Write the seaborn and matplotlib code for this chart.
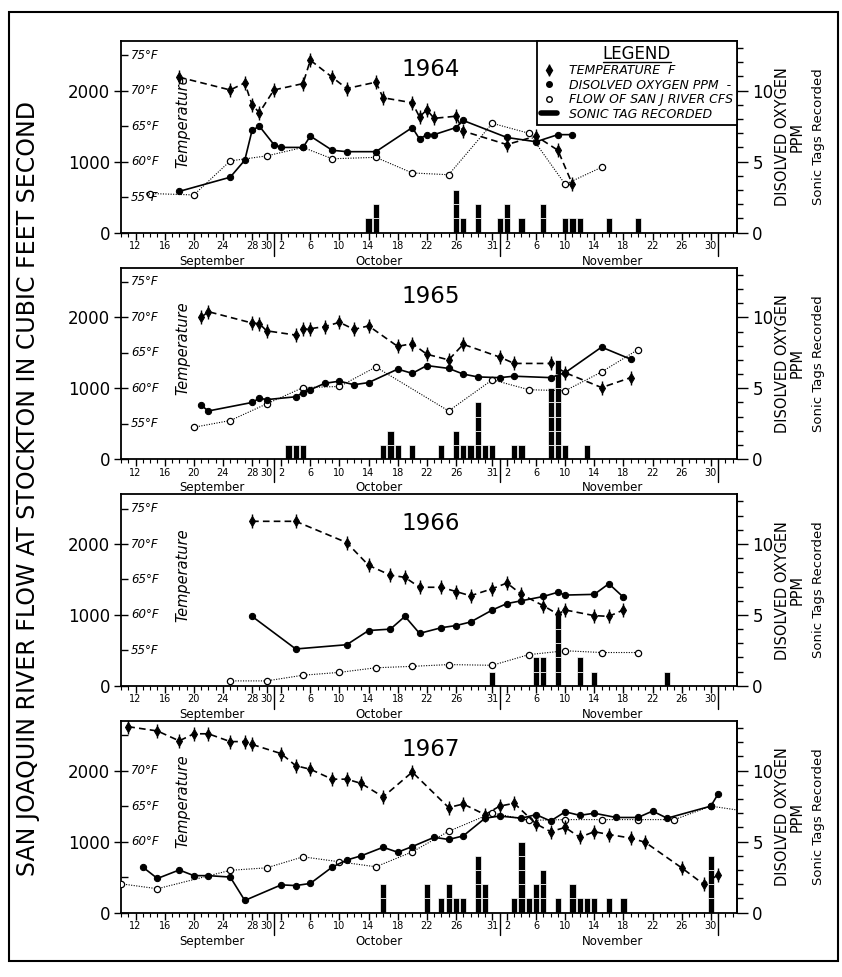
import numpy as np
import pandas as pd
import matplotlib
matplotlib.use("Agg")
import matplotlib.pyplot as plt
import seaborn as sns
from matplotlib.lines import Line2D
from matplotlib.patches import Rectangle
from matplotlib.legend_handler import HandlerTuple

# day numbers counted from 1 September (Sep 1 = 1, Oct 1 = 31, Nov 1 = 62, Dec 1 = 92)
years = [1964, 1965, 1966, 1967]

temp_days = {
    1964: [18, 25, 27, 28, 29, 31, 35, 36, 39, 41, 45, 46, 50, 51, 52, 53, 56, 57, 63, 67, 70, 72],
    1965: [21, 22, 28, 29, 30, 34, 35, 36, 38, 40, 42, 44, 48, 50, 52, 55, 57, 62, 64, 69, 71, 76, 80],
    1966: [28, 34, 41, 44, 47, 49, 51, 54, 56, 58, 61, 63, 65, 68, 70, 71, 75, 77, 79],
    1967: [11, 15, 18, 20, 22, 25, 27, 28, 32, 34, 36, 39, 41, 43, 46, 50, 55, 57, 60, 62, 64,
           67, 69, 71, 73, 75, 77, 80, 82, 87, 90, 92],
}
temp_f = {
    1964: [71.9, 70.1, 71.1, 68.0, 66.9, 70.1, 71.0, 74.3, 71.9, 70.3, 71.2, 69.0, 68.3, 66.3,
           67.3, 66.1, 66.4, 64.3, 62.4, 63.6, 61.6, 56.8],
    1965: [70.0, 70.8, 69.2, 69.1, 68.1, 67.5, 68.3, 68.4, 68.7, 69.3, 68.3, 68.8, 65.9, 66.3,
           64.8, 64.0, 66.2, 64.4, 63.5, 63.5, 62.2, 60.1, 61.5],
    1966: [73.2, 73.2, 70.2, 67.0, 65.6, 65.3, 63.9, 63.9, 63.3, 62.7, 63.7, 64.5, 62.9, 61.3,
           60.1, 60.7, 59.9, 59.8, 60.7],
    1967: [76.2, 75.6, 74.2, 75.2, 75.2, 74.1, 74.1, 73.7, 72.4, 70.7, 70.2, 68.8, 68.8, 68.2,
           66.3, 69.8, 64.8, 65.3, 63.8, 65.0, 65.4, 62.5, 61.4, 62.0, 60.6, 61.4, 61.0, 60.5,
           59.9, 56.3, 54.0, 55.3],
}

do_days = {
    1964: [18, 25, 27, 28, 29, 31, 32, 35, 36, 39, 41, 45, 50, 51, 52, 53, 56, 57, 63, 67, 70, 72],
    1965: [21, 22, 28, 29, 30, 34, 35, 36, 38, 40, 42, 44, 48, 50, 52, 55, 57, 59, 62, 64, 69, 71, 76, 80],
    1966: [28, 34, 41, 44, 47, 49, 51, 54, 56, 58, 61, 63, 65, 68, 70, 71, 75, 77, 79],
    1967: [13, 15, 18, 20, 22, 25, 27, 32, 34, 36, 39, 41, 43, 46, 48, 50, 53, 55, 57, 60, 62,
           65, 67, 69, 71, 73, 75, 78, 81, 83, 85, 91, 92],
}
do_ppm = {
    1964: [2.9, 3.9, 5.1, 7.2, 7.5, 6.2, 6.0, 6.0, 6.8, 5.8, 5.7, 5.7, 7.4, 6.6, 6.9, 6.9, 7.4,
           7.9, 6.7, 6.4, 6.9, 6.9],
    1965: [3.8, 3.4, 4.0, 4.3, 4.2, 4.4, 4.7, 4.9, 5.35, 5.5, 5.25, 5.4, 6.35, 6.05, 6.6, 6.4,
           6.0, 5.8, 5.75, 5.85, 5.75, 6.1, 7.9, 7.05],
    1966: [4.9, 2.6, 2.9, 3.9, 4.0, 4.9, 3.7, 4.1, 4.25, 4.5, 5.35, 5.8, 6.0, 6.3, 6.6, 6.4,
           6.45, 7.2, 6.25],
    1967: [3.2, 2.4, 3.0, 2.6, 2.6, 2.5, 0.85, 1.95, 1.9, 2.05, 3.2, 3.7, 4.0, 4.6, 4.25, 4.65,
           5.3, 5.15, 5.4, 6.65, 6.8, 6.65, 6.9, 6.45, 7.1, 6.85, 7.0, 6.7, 6.7, 7.15, 6.65, 7.5, 8.35],
}

flow_days = {
    1964: [14, 20, 25, 30, 35, 39, 45, 50, 55, 61, 66, 71, 76],
    1965: [20, 25, 30, 35, 40, 45, 55, 61, 66, 71, 76, 81],
    1966: [25, 30, 35, 40, 45, 50, 55, 61, 66, 71, 76, 81],
    1967: [10, 15, 25, 30, 35, 40, 45, 50, 55, 61, 66, 71, 76, 81, 86, 91, 95],
}
flow_cfs = {
    1964: [550, 530, 1010, 1080, 1200, 1040, 1060, 840, 815, 1540, 1400, 680, 920],
    1965: [450, 545, 780, 1010, 1025, 1300, 680, 1120, 980, 965, 1230, 1545],
    1966: [70, 70, 150, 190, 255, 275, 300, 290, 440, 495, 470, 470],
    1967: [405, 335, 595, 630, 785, 715, 645, 855, 1145, 1405, 1300, 1310, 1310, 1310, 1310,
           1500, 1440],
}

tag_days = {
    1964: [44, 45, 56, 57, 59, 62, 63, 65, 68, 71, 72, 73, 77, 81],
    1965: [33, 34, 35, 46, 47, 48, 50, 54, 56, 57, 58, 59, 60, 61, 64, 65, 69, 70, 71, 74],
    1966: [61, 67, 68, 70, 73, 75, 85],
    1967: [46, 52, 54, 55, 56, 57, 59, 60, 64, 65, 66, 67, 68, 70, 72, 73, 74, 75, 77, 79, 91],
}
tag_counts = {
    1964: [1, 2, 3, 1, 2, 1, 2, 1, 2, 1, 1, 1, 1, 1],
    1965: [1, 1, 1, 1, 2, 1, 1, 1, 2, 1, 1, 4, 1, 1, 1, 1, 5, 7, 1, 1],
    1966: [1, 2, 2, 5, 2, 1, 1],
    1967: [2, 2, 1, 2, 1, 1, 4, 2, 1, 5, 1, 2, 3, 1, 2, 1, 1, 1, 1, 1, 4],
}

# tick labels of the date axis
date_ticks = [12, 16, 20, 24, 28, 30, 32, 36, 40, 44, 48, 52, 56, 61, 63, 67, 71, 75, 79, 83, 87, 91]
date_labels = ["12", "16", "20", "24", "28", "30", "2", "6", "10", "14", "18", "22", "26", "31",
               "2", "6", "10", "14", "18", "22", "26", "30"]
month_names = ["September", "October", "November"]
month_centers = [22.5, 45.5, 77.5]
month_starts = [31, 62, 92]


# everything is drawn on the flow scale: 60F = 1000 cfs, 10 ppm = 2000 cfs
def temp_to_cfs(t):
    return (np.asarray(t) - 50) * 100


def ppm_to_cfs(p):
    return np.asarray(p) * 200


sns.set_theme(style="ticks")
plt.rcParams["font.family"] = ["DejaVu Sans"]
plt.rcParams["axes.edgecolor"] = "black"
plt.rcParams["xtick.color"] = "black"
plt.rcParams["ytick.color"] = "black"
plt.rcParams["text.color"] = "black"

fig = plt.figure(figsize=(8.42, 9.77), dpi=100)
bottoms = [0.762, 0.530, 0.298, 0.066]

for i, year in enumerate(years):
    ax = fig.add_axes([0.1437, bottoms[i], 0.7316, 0.196])

    # sonic tags as stacked unit blocks
    td = np.array(tag_days[year])
    tc = np.array(tag_counts[year])
    for k in range(tc.max()):
        sel = tc > k
        ax.bar(td[sel], ppm_to_cfs(1), bottom=ppm_to_cfs(k), width=0.85, color="black",
               edgecolor="white", linewidth=0.5, zorder=1)

    sns.lineplot(x=flow_days[year], y=flow_cfs[year], ax=ax, color="black", lw=0.8,
                 linestyle=(0, (1, 1.3)), marker="o", markersize=4.5, markerfacecolor="white",
                 markeredgecolor="black", markeredgewidth=0.9, zorder=3)
    sns.lineplot(x=do_days[year], y=ppm_to_cfs(do_ppm[year]), ax=ax, color="black", lw=1.2,
                 marker="o", markersize=4.5, markeredgecolor="black", zorder=4)
    sns.lineplot(x=temp_days[year], y=temp_to_cfs(temp_f[year]), ax=ax, color="black", lw=1.2,
                 linestyle=(0, (4, 2.5)), marker="d", markersize=5.5, markeredgecolor="black",
                 zorder=5)
    ax.plot(temp_days[year], temp_to_cfs(temp_f[year]), linestyle="none", marker="|",
            markersize=10, markeredgewidth=1, color="black", zorder=5)

    ax.set_xlim(10, 94.6)
    ax.set_ylim(0, 2700)
    for sp in ax.spines.values():
        sp.set_visible(True)
        sp.set_linewidth(1.3)

    ax.set_xticks(date_ticks)
    ax.set_xticklabels(date_labels)
    ax.set_xticks(range(10, 95), minor=True)
    ax.tick_params(axis="x", which="major", direction="out", length=5, width=1, labelsize=7, pad=1)
    ax.tick_params(axis="x", which="minor", direction="out", length=3, width=0.8)

    ax.set_yticks([0, 1000, 2000])
    ax.set_yticklabels(["0", "1000", "2000"])
    ax.set_yticks([500, 1500, 2500], minor=True)
    ax.tick_params(axis="y", which="major", direction="inout", length=10, width=1, labelsize=12, pad=3)
    ax.tick_params(axis="y", which="minor", direction="in", length=5, width=1)
    ax.set_xlabel("")
    ax.set_ylabel("")

    xtr = ax.get_xaxis_transform()
    for m in month_starts:
        ax.plot([m, m], [0, -0.12], transform=xtr, clip_on=False, color="black", lw=1)
    for name, c in zip(month_names, month_centers):
        ax.text(c, -0.115, name, transform=xtr, ha="center", va="top", fontsize=8.5)

    # temperature scale written inside the left spine
    ytr = ax.get_yaxis_transform()
    t_labels = [60, 65, 70] if year == 1967 else [55, 60, 65, 70, 75]
    for t in t_labels:
        ax.text(0.016, temp_to_cfs(t), f"{t}°F", transform=ytr, ha="left", va="center",
                fontsize=8.5, style="italic")
    ax.text(18.5, 0.58, "Temperature", transform=xtr, rotation=90, ha="center", va="center",
            fontsize=10.5, style="italic")

    ax.text(52.5, 0.85, str(year), transform=xtr, ha="center", va="center", fontsize=16.5)

    sec = ax.secondary_yaxis("right", functions=(lambda f: f / 200, lambda p: p * 200))
    sec.set_yticks([0, 5, 10])
    sec.set_yticks(range(0, 14), minor=True)
    sec.tick_params(which="major", direction="out", length=8, width=1, labelsize=12, pad=3)
    sec.tick_params(which="minor", direction="out", length=4, width=1)
    sec.spines["right"].set_linewidth(1.3)

    ax.text(1.086, 0.5, "DISOLVED OXYGEN\nPPM", transform=ax.transAxes, rotation=90,
            ha="center", va="center", fontsize=10.5, linespacing=1.0, multialignment="center")
    ax.text(1.133, 0.5, "Sonic Tags Recorded", transform=ax.transAxes, rotation=90,
            ha="center", va="center", fontsize=9.5)

    if i == 0:
        h_temp = (Line2D([], [], ls="none", marker="d", ms=5, color="black"),
                  Line2D([], [], ls="none", marker="|", ms=9, mew=1, color="black"))
        h_do = Line2D([], [], ls="none", marker="o", ms=4, color="black")
        h_flow = Line2D([], [], ls="none", marker="o", ms=4, mfc="white", mec="black")
        h_tag = Line2D([], [], color="black", lw=4)
        leg = ax.legend([h_temp, h_do, h_flow, h_tag],
                        ["TEMPERATURE  F", "DISOLVED OXYGEN PPM  -", "FLOW OF SAN J RIVER CFS",
                         "SONIC TAG RECORDED"],
                        handler_map={tuple: HandlerTuple(ndivide=1, pad=0)},
                        loc="upper right", bbox_to_anchor=(1, 1), borderaxespad=0,
                        frameon=True, fancybox=False, edgecolor="black", framealpha=1,
                        title="LEGEND", title_fontsize=12,
                        prop={"style": "italic", "size": 9},
                        handlelength=1.3, handletextpad=1.0, labelspacing=0.12, borderpad=0.3)
        leg.get_frame().set_linewidth(1.3)
        leg.set_zorder(10)

fig.text(0.033, 0.5, "SAN JOAQUIN RIVER FLOW AT STOCKTON IN CUBIC FEET SECOND", rotation=90,
         ha="center", va="center", fontsize=17)
fig.add_artist(Rectangle((0.011, 0.016), 0.984, 0.972, transform=fig.transFigure, fill=False,
                         lw=1.5, ec="black"))

# underline the legend title
fig.canvas.draw()
bb = leg.get_title().get_window_extent()
inv = fig.transFigure.inverted()
(x0, y0), (x1, y1) = inv.transform([[bb.x0, bb.y0], [bb.x1, bb.y1]])
fig.add_artist(Line2D([x0, x1], [y0 + 0.001, y0 + 0.001], transform=fig.transFigure,
                      color="black", lw=1, zorder=20))

fig.savefig("out.png", dpi=100)
